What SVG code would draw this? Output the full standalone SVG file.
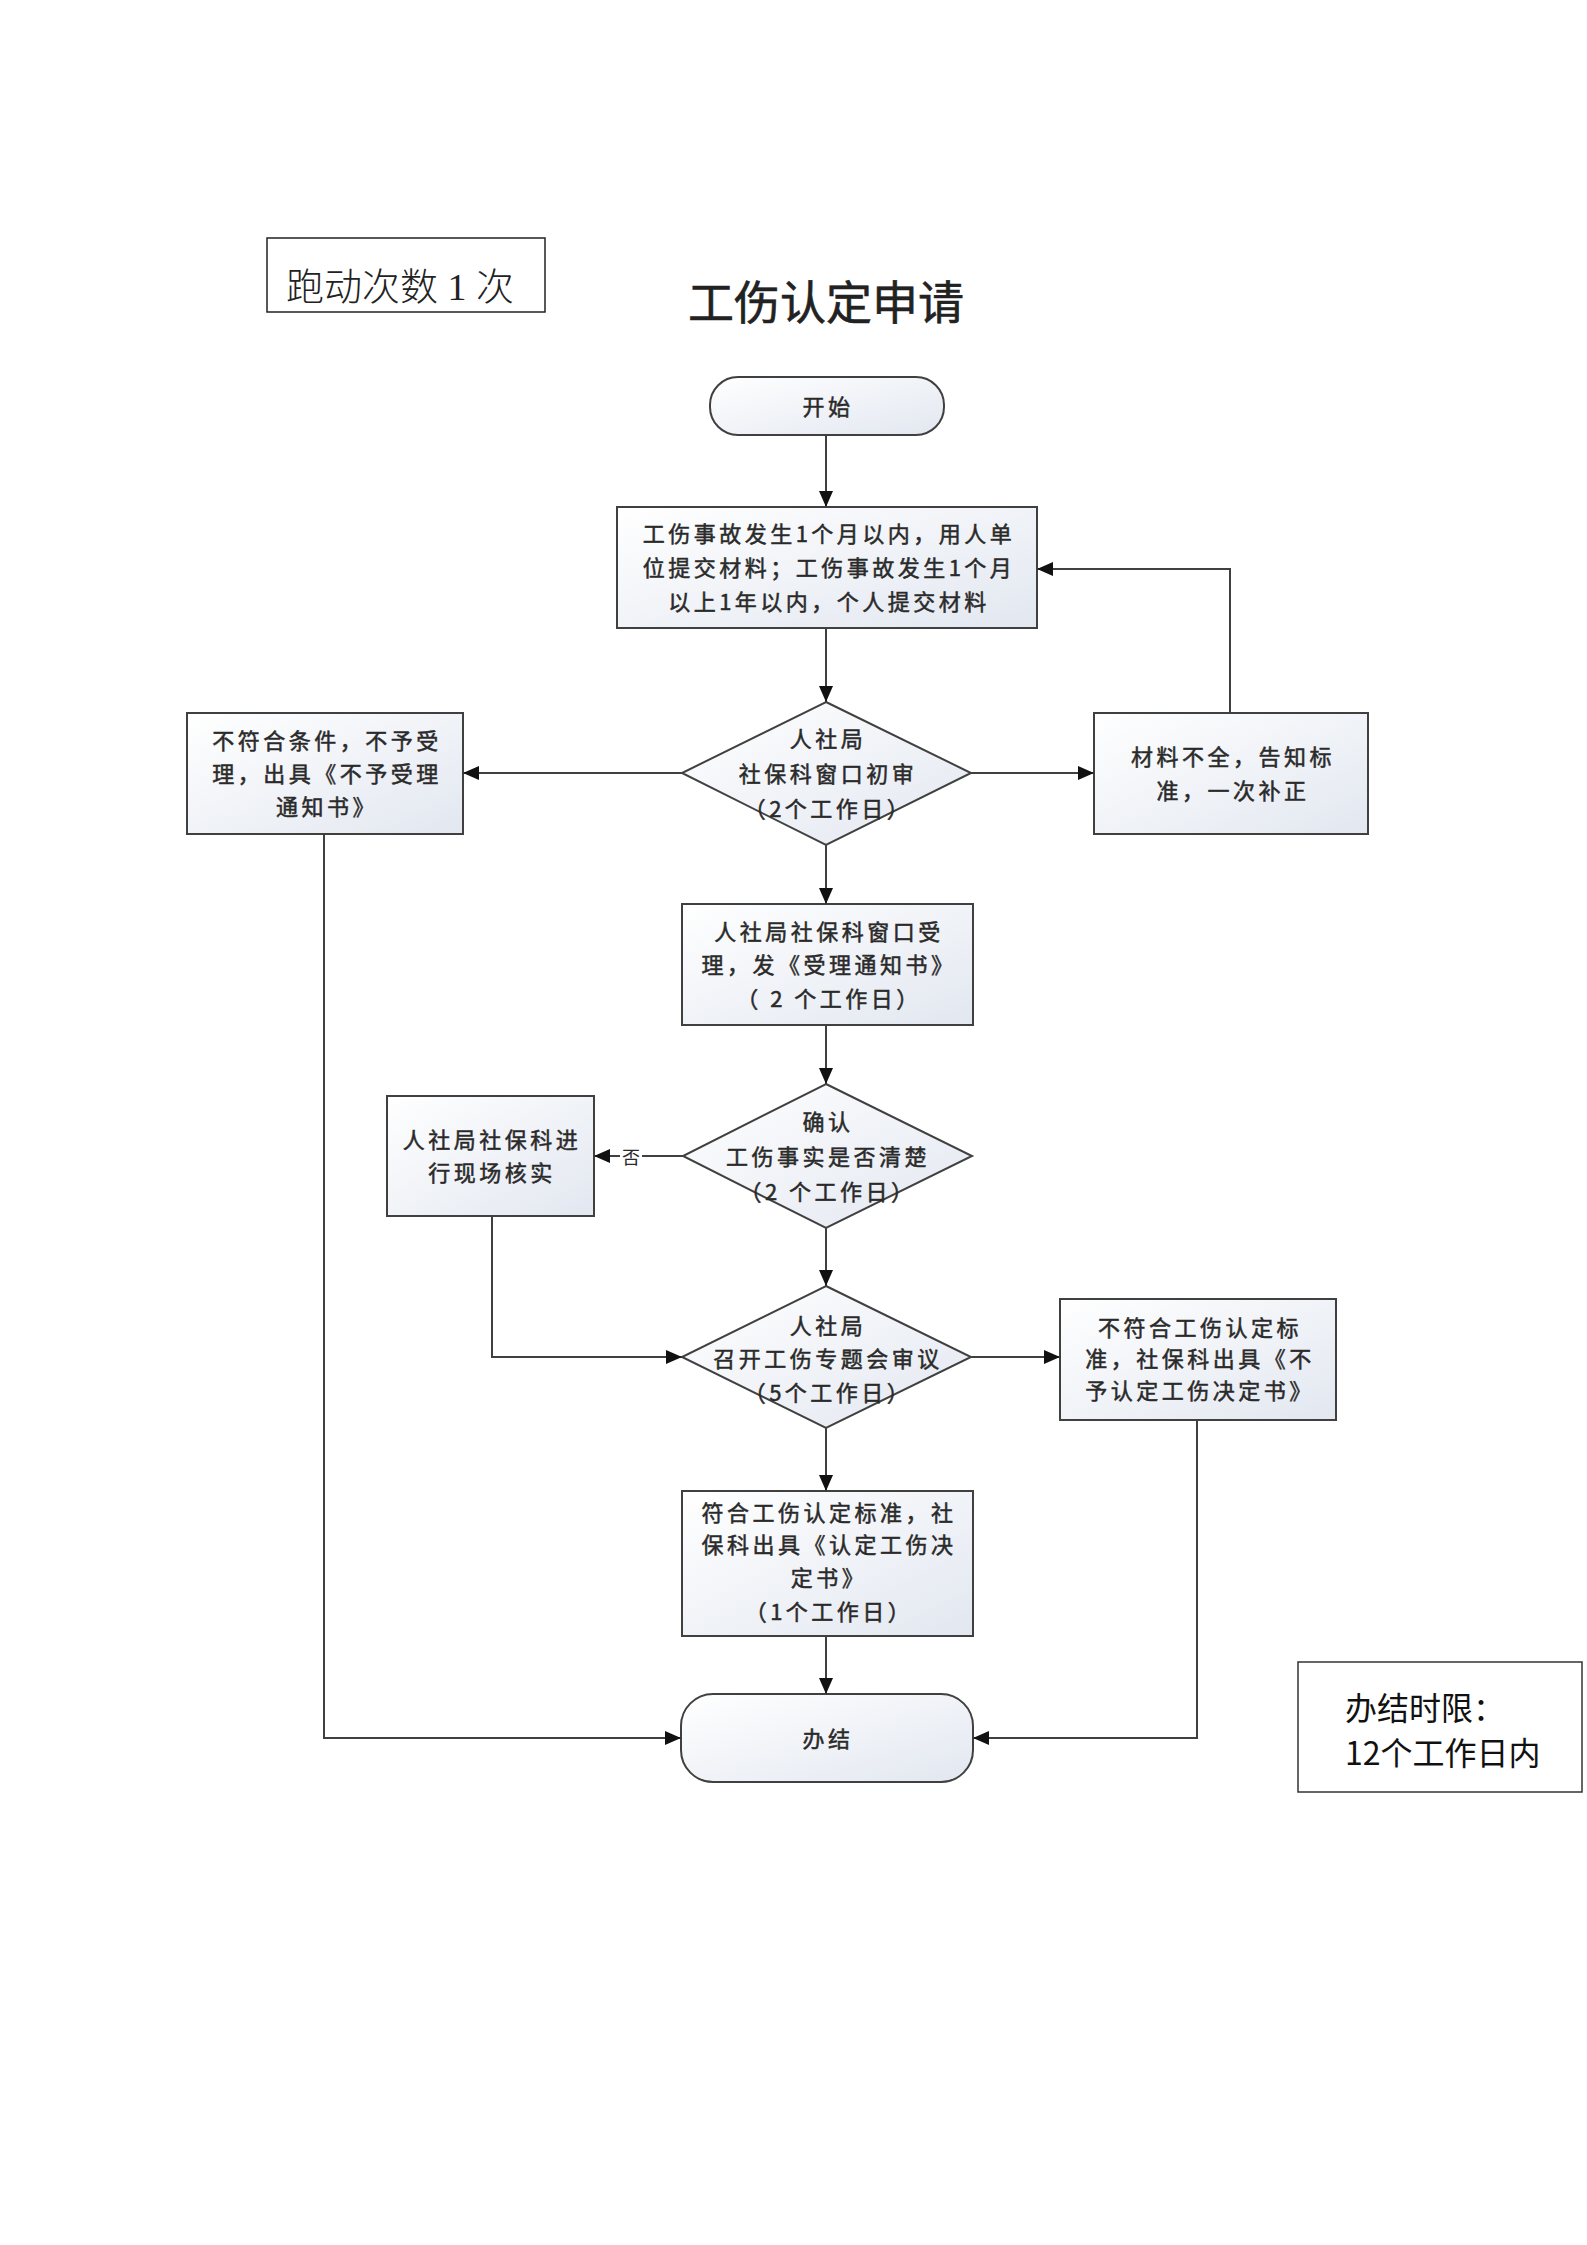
<svg xmlns="http://www.w3.org/2000/svg" width="1587" height="2245" viewBox="0 0 1587 2245">
<defs>
<linearGradient id="g" x1="0" y1="0" x2="1" y2="1">
<stop offset="0" stop-color="#ffffff"/>
<stop offset="1" stop-color="#e2e7f0"/>
</linearGradient>
<marker id="arr" markerUnits="userSpaceOnUse" markerWidth="16" markerHeight="14" refX="16" refY="7" orient="auto">
<path d="M0,0 L16,7 L0,14 z" fill="#111"/>
</marker>
</defs>
<style>
.n{fill:url(#g);stroke:#404040;stroke-width:2}
.t{font-family:"Noto Sans CJK SC","Liberation Sans",sans-serif;font-size:22px;letter-spacing:3.5px;fill:#2a2a2a;stroke:#2a2a2a;stroke-width:0.5px;text-anchor:middle;dominant-baseline:central}
.c{fill:none;stroke:#404040;stroke-width:2;marker-end:url(#arr)}
</style>
<rect width="1587" height="2245" fill="#ffffff"/>

<g id="runs">
<rect x="267" y="238" width="278" height="74" fill="none" stroke="#222" stroke-width="1.5"/>
<text x="286" y="300" font-family="Liberation Serif,'Noto Sans CJK SC',serif" font-weight="300" font-size="38" fill="#222">跑动次数 1 次</text>
</g>

<g id="title">
<text x="826" y="299" font-family="'Noto Sans CJK SC',sans-serif" font-size="46" fill="#222" stroke="#222" stroke-width="0.6" text-anchor="middle" dominant-baseline="central">工伤认定申请</text>
</g>

<g id="start">
<rect class="n" x="710" y="377" width="234" height="58" rx="28"/>
<text class="t" x="828" y="405">开始</text>
</g>

<g id="submit">
<rect class="n" x="617" y="507" width="420" height="121"/>
<text class="t" x="829" y="532">工伤事故发生1个月以内，用人单</text>
<text class="t" x="829" y="566">位提交材料；工伤事故发生1个月</text>
<text class="t" x="829" y="600">以上1年以内，个人提交材料</text>
</g>

<g id="review1">
<polygon class="n" points="826,702 971,773 826,845 682,773"/>
<text class="t" x="828" y="737">人社局</text>
<text class="t" x="828" y="772">社保科窗口初审</text>
<text class="t" x="828" y="807">（2个工作日）</text>
</g>

<g id="reject1">
<rect class="n" x="187" y="713" width="276" height="121"/>
<text class="t" x="327" y="739">不符合条件，不予受</text>
<text class="t" x="327" y="772">理，出具《不予受理</text>
<text class="t" x="327" y="805">通知书》</text>
</g>

<g id="supplement">
<rect class="n" x="1094" y="713" width="274" height="121"/>
<text class="t" x="1233" y="755">材料不全，告知标</text>
<text class="t" x="1233" y="789">准，一次补正</text>
</g>

<g id="accept">
<rect class="n" x="682" y="904" width="291" height="121"/>
<text class="t" x="829" y="930">人社局社保科窗口受</text>
<text class="t" x="829" y="963">理，发《受理通知书》</text>
<text class="t" x="829" y="997">（ 2 个工作日）</text>
</g>

<g id="confirm">
<polygon class="n" points="826,1084 972,1156 826,1228 683,1156"/>
<text class="t" x="828" y="1120">确认</text>
<text class="t" x="828" y="1155">工伤事实是否清楚</text>
<text class="t" x="828" y="1190">（2 个工作日）</text>
</g>

<g id="verify">
<rect class="n" x="387" y="1096" width="207" height="120"/>
<text class="t" x="492" y="1138">人社局社保科进</text>
<text class="t" x="492" y="1171">行现场核实</text>
</g>

<g id="meeting">
<polygon class="n" points="826,1286 971,1357 826,1428 682,1357"/>
<text class="t" x="828" y="1324">人社局</text>
<text class="t" x="828" y="1357">召开工伤专题会审议</text>
<text class="t" x="828" y="1391">（5个工作日）</text>
</g>

<g id="reject2">
<rect class="n" x="1060" y="1299" width="276" height="121"/>
<text class="t" x="1200" y="1326">不符合工伤认定标</text>
<text class="t" x="1200" y="1357">准，社保科出具《不</text>
<text class="t" x="1200" y="1389">予认定工伤决定书》</text>
</g>

<g id="approve">
<rect class="n" x="682" y="1491" width="291" height="145"/>
<text class="t" x="829" y="1511">符合工伤认定标准，社</text>
<text class="t" x="829" y="1543">保科出具《认定工伤决</text>
<text class="t" x="829" y="1576">定书》</text>
<text class="t" x="829" y="1610">（1个工作日）</text>
</g>

<g id="end">
<rect class="n" x="681" y="1694" width="292" height="88" rx="32"/>
<text class="t" x="828" y="1737">办结</text>
</g>

<g id="limit">
<rect x="1298" y="1662" width="284" height="130" fill="none" stroke="#333" stroke-width="1.5"/>
<text x="1345" y="1706" font-family="'Noto Sans CJK SC',sans-serif" font-size="32" fill="#111" dominant-baseline="central">办结时限：</text>
<text x="1345" y="1751" font-family="'Noto Sans CJK SC',sans-serif" font-size="32" fill="#111" dominant-baseline="central">12个工作日内</text>
</g>

<g id="connectors">
<path class="c" d="M826,435 V507"/>
<path class="c" d="M826,628 V702"/>
<path class="c" d="M682,773 H463"/>
<path class="c" d="M971,773 H1094"/>
<path class="c" d="M1230,713 V569 H1037"/>
<path class="c" d="M826,845 V904"/>
<path class="c" d="M826,1025 V1084"/>
<path class="c" d="M683,1156 H594"/>
<rect x="620" y="1145" width="22" height="22" fill="#ffffff"/>
<text x="631" y="1156" font-family="'Noto Sans CJK SC',sans-serif" font-size="18" fill="#2a2a2a" text-anchor="middle" dominant-baseline="central">否</text>
<path class="c" d="M826,1228 V1286"/>
<path class="c" d="M492,1216 V1357 H682"/>
<path class="c" d="M971,1357 H1060"/>
<path class="c" d="M826,1428 V1491"/>
<path class="c" d="M826,1636 V1694"/>
<path class="c" d="M324,834 V1738 H681"/>
<path class="c" d="M1197,1420 V1738 H973"/>
</g>
</svg>
